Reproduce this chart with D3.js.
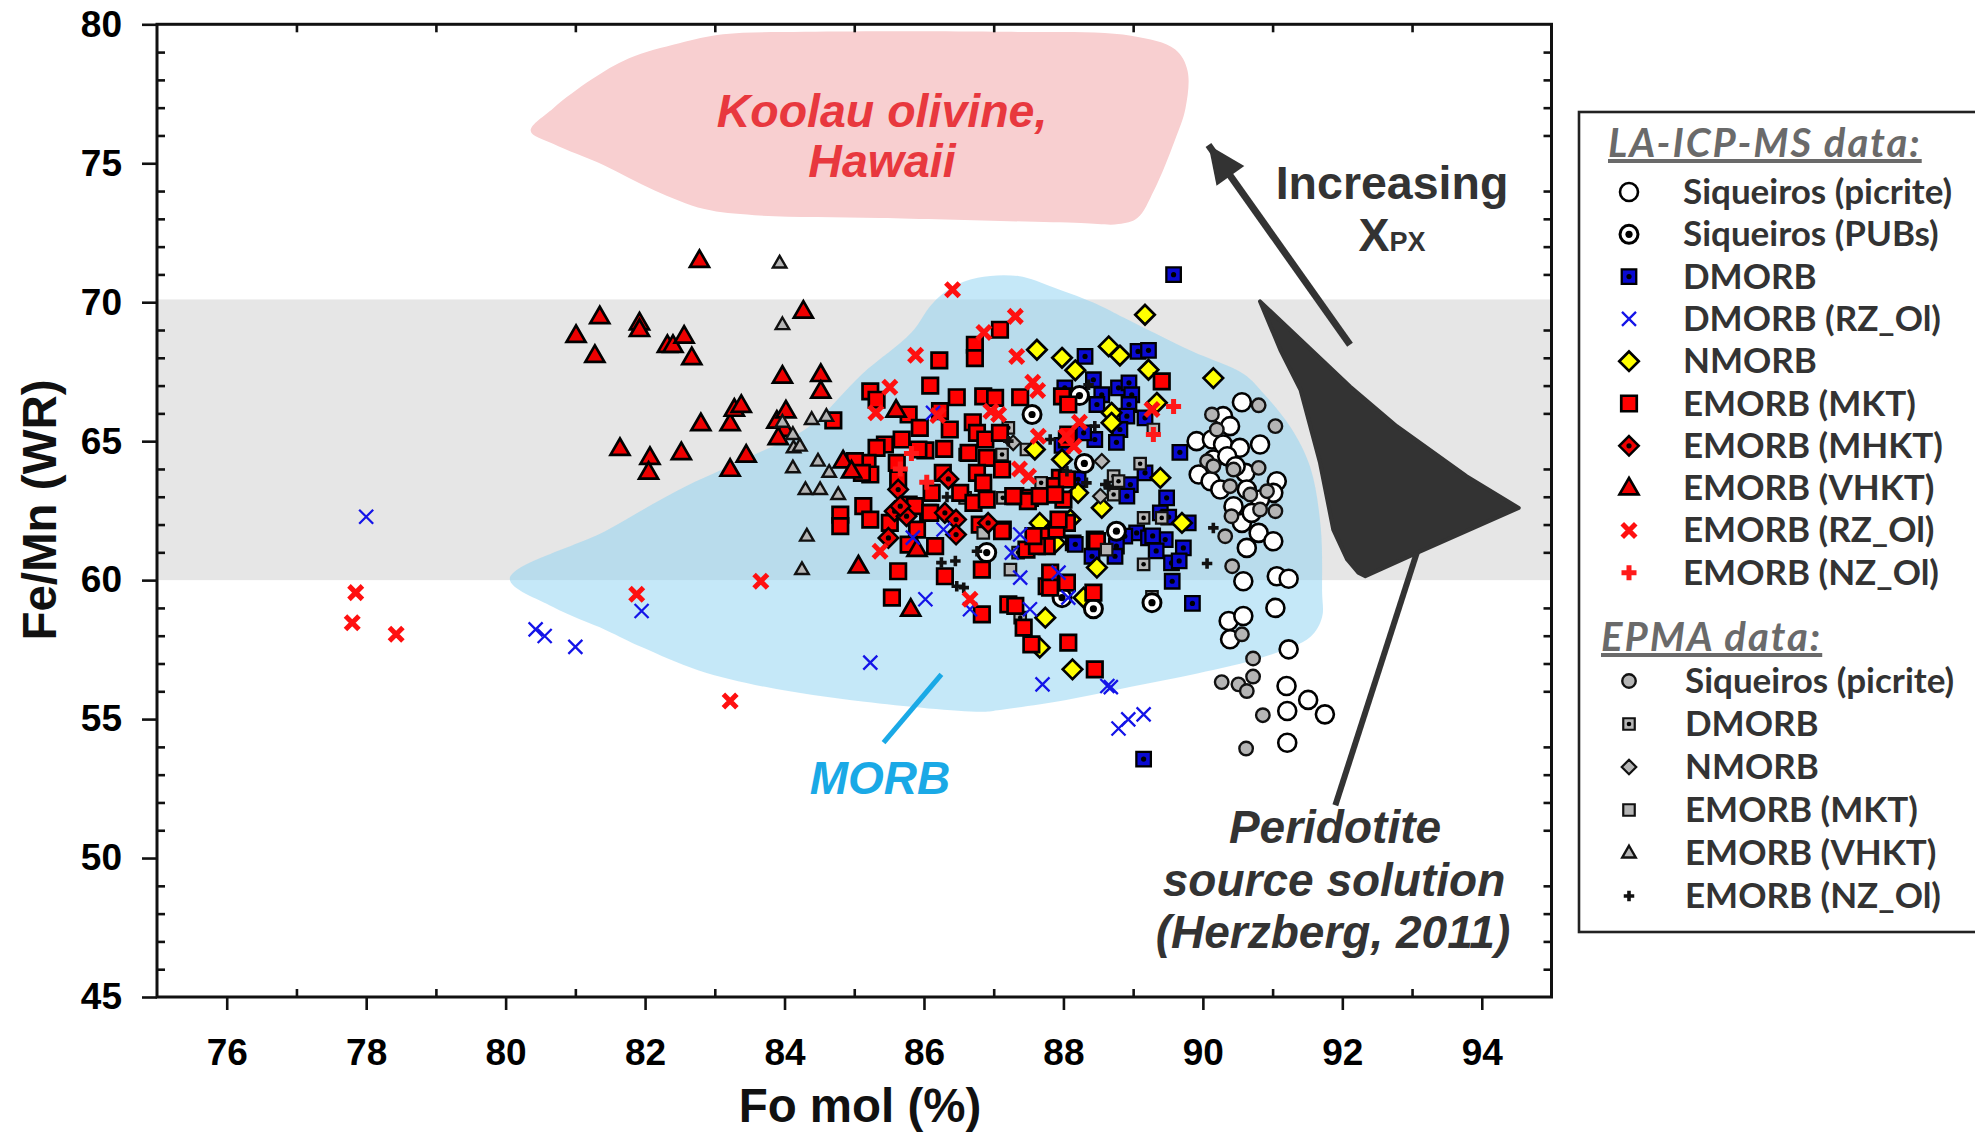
<!DOCTYPE html>
<html><head><meta charset="utf-8">
<script src="https://cdn.jsdelivr.net/npm/d3@7"></script>
<style>body{margin:0;background:#fff}</style>
</head><body>
<svg id="chart" width="1975" height="1135"></svg>
<script>
// ---------- axis ticks ----------
const xMajorTicks = [76, 78, 80, 82, 84, 86, 88, 90, 92, 94];
const xMinorTicks = [77, 79, 81, 83, 85, 87, 89, 91, 93];
const yMajorTicks = [45, 50, 55, 60, 65, 70, 75, 80];
const yMinorTicks = d3.range(46, 80).filter(v => v % 5 !== 0);

// ---------- LA-ICP-MS data (Fo mol %, Fe/Mn WR) ----------
const laPicrite = [[90.56,66.40],[89.91,65.0],[90.29,65.90],[90.39,65.54],[90.13,65.06],[90.29,64.88],[90.53,64.76],[90.82,64.88],[89.94,63.80],[90.15,64.34],[90.11,63.56],[90.25,63.26],[90.61,63.86],[90.63,63.26],[91.06,63.56],[91.01,63.14],[90.44,62.66],[90.82,62.90],[90.56,62.06],[90.70,62.42],[90.80,61.70],[91.01,61.40],[90.63,61.16],[90.35,64.46],[90.47,64.10],[90.58,59.96],[91.06,60.14],[91.23,60.05],[91.04,59.0],[90.37,58.53],[90.58,58.71],[90.39,57.87],[91.23,57.51],[91.20,56.19],[91.51,55.69],[91.75,55.17],[91.21,55.29],[91.21,54.15]];
const laPubs = [[87.55,65.96],[88.23,66.64],[86.90,60.99],[87.98,59.37],[88.43,58.97],[88.76,61.76],[89.27,59.19],[88.3,64.2]];
const laDmorb = [[89.58,70.99],[88.31,68.05],[89.07,68.23],[89.22,68.27],[88.43,67.21],[88.02,66.92],[88.55,66.67],[88.79,66.92],[88.94,67.10],[88.98,66.67],[88.48,66.32],[88.94,66.32],[88.91,65.90],[89.17,65.84],[88.81,65.42],[88.76,64.96],[89.67,64.60],[88.45,65.06],[88.29,65.30],[89.17,63.86],[88.96,63.44],[88.91,63.02],[89.48,62.96],[89.39,62.42],[89.79,62.06],[89.05,61.70],[89.22,61.52],[89.46,61.46],[88.88,61.58],[89.72,61.16],[88.76,61.22],[88.14,61.34],[88.41,60.86],[89.55,60.62],[89.56,59.96],[89.85,59.16],[88.74,60.86],[88.17,61.29],[89.15,53.56],[87.98,64.85],[88.21,63.63],[89.28,61.59],[89.51,62.27],[89.33,61.05],[89.66,60.69]];
const laDmorbRz = [[78.0,62.28],[80.43,58.23],[80.56,57.99],[81.0,57.6],[81.95,58.89],[85.23,57.03],[86.02,59.31],[86.28,61.82],[87.70,56.25],[88.63,56.19],[88.68,56.15],[88.79,54.66],[88.93,54.99],[89.15,55.17],[87.38,60.09],[87.52,58.95],[88.07,59.37],[87.93,60.27],[87.26,60.99],[85.84,61.53],[87.38,61.64],[86.66,58.95],[86.13,66.02]];
const laNmorb = [[89.17,69.55],[88.65,68.41],[88.81,68.08],[87.98,68.0],[88.17,67.55],[89.22,67.57],[90.15,67.27],[88.69,66.02],[88.69,65.66],[89.39,63.68],[88.21,63.14],[88.55,62.60],[89.70,62.06],[87.98,64.34],[88.10,62.18],[87.62,68.29],[87.66,62.06],[87.88,61.34],[87.59,64.70],[88.48,60.45],[87.74,58.65],[87.66,57.57],[88.13,56.79],[88.29,59.37],[89.34,66.38]];
const laEmorbMkt = [[87.09,69.01],[86.73,68.47],[86.73,67.99],[86.22,67.91],[86.09,67.0],[86.47,66.58],[86.85,66.61],[87.02,66.56],[87.38,66.58],[85.23,66.79],[85.32,66.49],[85.78,65.96],[85.94,65.48],[86.23,66.08],[86.37,65.42],[86.70,65.68],[86.76,65.30],[86.88,65.06],[87.09,65.30],[84.70,65.75],[85.68,65.06],[85.44,64.88],[85.32,64.76],[86.02,64.67],[86.29,64.72],[85.19,64.22],[85.01,64.28],[85.23,63.80],[85.11,63.86],[85.61,64.22],[85.63,63.62],[86.27,63.86],[86.64,64.58],[86.90,64.40],[86.76,63.86],[87.12,63.98],[86.85,63.50],[86.11,63.14],[85.78,62.72],[85.13,62.66],[84.80,62.36],[84.80,61.94],[85.23,62.18],[85.51,62.06],[86.06,62.42],[85.90,61.82],[86.52,63.14],[86.71,62.78],[86.90,62.90],[87.31,63.02],[87.52,62.96],[87.13,61.82],[86.16,61.22],[85.78,61.28],[86.80,62.0],[87.71,61.58],[87.95,63.68],[87.88,63.38],[88.0,62.90],[88.05,65.06],[87.98,66.61],[87.76,61.22],[87.47,61.1],[89.41,67.15],[88.07,66.32],[88.05,63.62],[88.05,62.06],[88.45,61.46],[85.92,64.70],[85.63,60.32],[85.54,59.37],[85.87,62.66],[86.09,62.42],[86.30,60.14],[86.83,60.38],[86.83,58.77],[87.12,61.76],[87.21,59.13],[87.31,59.07],[87.43,58.29],[87.54,57.69],[88.07,57.75],[88.45,56.79],[87.76,59.78],[87.81,60.27],[87.62,61.22],[87.57,61.58],[88.05,59.91],[88.43,59.55],[87.90,61.82],[87.93,62.18],[88.48,61.40],[87.49,62.84],[87.66,63.02],[87.28,63.02],[88.07,65.24],[87.88,63.08],[87.81,59.73]];
const laEmorbMhkt = [[86.35,63.64],[85.63,63.26],[85.58,62.48],[85.75,62.30],[86.30,62.42],[86.46,62.18],[86.46,61.64],[85.49,61.52],[86.92,62.06],[85.66,62.66]];
const laEmorbVhkt = [[82.78,71.50],[81.35,69.47],[81.01,68.80],[81.28,68.08],[81.92,69.25],[81.92,69.01],[82.32,68.44],[82.40,68.44],[82.56,68.77],[82.67,68.0],[83.97,67.33],[84.27,69.67],[82.80,65.62],[83.22,65.62],[83.28,66.14],[83.38,66.28],[81.64,64.73],[82.07,64.41],[82.05,63.88],[82.52,64.58],[83.45,64.49],[83.22,63.98],[83.89,65.71],[84.02,66.08],[84.0,65.42],[83.91,65.12],[84.52,67.39],[84.52,66.79],[85.6,66.11],[84.84,64.28],[84.96,63.92],[85.9,61.1],[85.06,60.5],[85.81,58.95]];
const laEmorbRz = [[77.85,59.55],[77.80,58.47],[78.43,58.05],[81.88,59.49],[83.66,59.96],[83.22,55.65],[86.41,70.45],[87.31,69.49],[86.86,68.91],[85.88,68.09],[87.33,68.05],[87.56,67.12],[87.63,66.82],[85.51,66.94],[85.31,66.02],[86.20,65.92],[86.96,66.08],[87.07,65.96],[88.23,65.68],[87.64,65.18],[88.04,65.18],[88.15,64.82],[87.37,64.0],[87.50,63.74],[85.37,61.04],[86.66,59.31],[89.27,66.14]];
const laEmorbNz = [[85.82,64.56],[85.66,64.0],[86.04,63.52],[89.58,66.25],[89.29,65.24]];

// ---------- EPMA data ----------
const epPicrite = [[90.80,66.29],[90.13,65.96],[90.20,65.42],[91.04,65.54],[90.06,64.28],[90.15,64.10],[90.44,63.98],[90.80,64.04],[90.39,63.38],[90.68,63.08],[90.92,63.20],[90.41,62.30],[90.82,62.54],[91.04,62.48],[90.32,61.58],[90.42,60.50],[90.56,58.05],[90.72,57.18],[90.72,56.53],[90.51,56.25],[90.63,56.01],[90.27,56.33],[90.86,55.14],[90.62,53.94]];
const epDmorb = [[87.21,65.48],[87.47,64.70],[86.59,64.52],[86.59,62.96],[87.13,62.96],[87.68,63.50],[87.35,60.99],[89.10,64.19],[88.72,63.74],[88.79,63.56],[88.72,63.08],[89.15,62.24],[89.41,62.24],[89.15,60.57],[89.27,59.40],[87.38,58.65],[87.12,64.52]];
const epNmorb = [[87.28,64.94],[88.55,64.28],[88.53,63.02]];
const epEmorbMkt = [[86.85,61.70],[89.29,65.42],[88.62,61.10],[87.24,60.38]];
const epEmorbVhkt = [[83.93,71.41],[83.97,69.19],[83.97,65.68],[84.12,65.24],[84.13,64.76],[84.22,64.82],[84.12,64.04],[84.30,63.26],[84.32,61.58],[84.25,60.38],[84.48,64.28],[84.51,63.26],[84.64,63.88],[84.60,65.89],[84.39,65.78],[84.77,63.08]];
const epEmorbNz = [[86.33,62.99],[86.76,61.04],[86.25,60.63],[86.45,60.69],[86.47,59.78],[86.57,59.73],[87.21,65.0],[87.81,65.06],[88.33,63.50],[88.05,63.92],[88.45,65.54],[88.60,63.44],[90.15,61.88],[88.36,67.03],[88.65,63.38],[90.06,60.60]];

// ---------- outlined fields ----------
const koolauOutline = [[80.36,76.16],[80.68,76.97],[81.23,78.01],[81.77,78.78],[82.49,79.32],[83.12,79.64],[84.29,79.73],[87.17,79.73],[88.97,79.59],[89.60,79.10],[89.78,78.33],[89.75,76.97],[89.60,75.84],[89.30,74.03],[89.06,73.03],[88.79,72.81],[88.25,72.85],[85.37,73.03],[83.57,73.13],[82.85,73.35],[82.13,74.03],[81.41,74.93],[80.68,75.70]];
const morbOutline = [[80.06,60.05],[81.44,61.78],[82.46,63.22],[83.48,64.41],[84.34,65.50],[85.11,67.41],[85.82,68.91],[86.11,69.92],[86.39,70.52],[86.77,70.88],[87.35,70.94],[87.87,70.52],[88.49,69.92],[88.87,69.44],[89.83,68.25],[90.59,67.41],[90.88,66.69],[91.26,65.49],[91.54,64.06],[91.69,61.90],[91.71,59.56],[91.71,58.67],[91.54,57.95],[90.88,57.24],[89.92,56.64],[88.97,56.16],[88.02,55.68],[87.06,55.32],[86.82,55.26],[85.15,55.62],[83.72,56.16],[82.77,56.75],[81.95,57.59],[81.44,58.20],[80.68,59.03]];
const peridotiteOutline = [[90.82,70.03],[91.25,69.01],[92.11,66.97],[92.78,65.54],[93.78,63.74],[94.53,62.60],[93.07,60.98],[92.33,60.14],[92.23,60.27],[92.07,60.74],[91.87,61.82],[91.68,64.22],[91.40,66.85],[91.11,68.29]];
const fieldBand = [60, 70.1];
const xpxArrow = [[92.11,68.47],[90.08,75.66]];
const peridotitePointer = [[93.07,61.0],[91.90,51.9]];
const morbPointer = [[86.25,56.61],[85.42,54.15]];

// ---------- scales ----------
const svg = d3.select('#chart');
const pLeft = 157, pRight = 1551.5, pTop = 24.3, pBottom = 997;
const x = d3.scaleLinear().domain([75, 95]).range([pLeft, pRight]);
const y = d3.scaleLinear().domain([45, 80]).range([pBottom, pTop]);

svg.append('clipPath').attr('id', 'plotClip')
  .append('rect').attr('x', pLeft).attr('y', pTop).attr('width', pRight - pLeft).attr('height', pBottom - pTop);
const plot = svg.append('g').attr('clip-path', 'url(#plotClip)');

// grey reference band
plot.append('rect')
  .attr('x', x(75)).attr('width', x(95) - x(75))
  .attr('y', y(fieldBand[1])).attr('height', y(fieldBand[0]) - y(fieldBand[1]))
  .attr('fill', '#e6e6e6');

const smooth = d3.line().x(d => x(d[0])).y(d => y(d[1])).curve(d3.curveCatmullRomClosed.alpha(0.5));
const straight = d3.line().x(d => x(d[0])).y(d => y(d[1])).curve(d3.curveLinearClosed);

plot.append('path').attr('d', smooth(koolauOutline)).attr('fill', '#f8cfd0');
plot.append('path').attr('d', smooth(morbOutline)).attr('fill', 'rgb(143,211,242)').attr('fill-opacity', 0.52);
plot.append('path').attr('d', straight(peridotiteOutline)).attr('fill', '#333333')
  .attr('stroke', '#333333').attr('stroke-width', 4).attr('stroke-linejoin', 'round');

// ---------- marker shapes ----------
const shapes = {
  square: s => `M${-s/2},${-s/2}h${s}v${s}h${-s}Z`,
  diamond: s => `M0,${-s/2}L${s/2},0L0,${s/2}L${-s/2},0Z`,
  triangle: s => { const h = s * 0.866; return `M0,${-h*0.62}L${s/2},${h*0.38}L${-s/2},${h*0.38}Z`; },
  circle: s => { const r = s/2; return `M${r},0A${r},${r} 0 1,1 ${-r},0A${r},${r} 0 1,1 ${r},0Z`; },
  times: s => `M${-s/2},${-s/2}L${s/2},${s/2}M${s/2},${-s/2}L${-s/2},${s/2}`,
  plus: s => `M${-s/2},0H${s/2}M0,${-s/2}V${s/2}`
};

const series = {
  laPicrite:   {label: 'Siqueiros (picrite)', data: laPicrite, shape: 'circle', size: 18, fill: '#ffffff', stroke: '#000', sw: 2.6},
  laPubs:      {label: 'Siqueiros (PUBs)', data: laPubs, shape: 'circle', size: 18, fill: '#ffffff', stroke: '#000', sw: 3, dot: 3.6},
  laDmorb:     {label: 'DMORB', data: laDmorb, shape: 'square', size: 14.5, fill: '#0a0ad2', stroke: '#000', sw: 2.3, dot: 2.6},
  laDmorbRz:   {label: 'DMORB (RZ_Ol)', data: laDmorbRz, shape: 'times', size: 14, fill: 'none', stroke: '#1414e8', sw: 2.3},
  laNmorb:     {label: 'NMORB', data: laNmorb, shape: 'diamond', size: 19.5, fill: '#ffff00', stroke: '#000', sw: 2.7},
  laEmorbMkt:  {label: 'EMORB (MKT)', data: laEmorbMkt, shape: 'square', size: 15.5, fill: '#ff0000', stroke: '#000', sw: 2.7},
  laEmorbMhkt: {label: 'EMORB (MHKT)', data: laEmorbMhkt, shape: 'diamond', size: 19.5, fill: '#ee0000', stroke: '#000', sw: 2.5, dot: 2.6},
  laEmorbVhkt: {label: 'EMORB (VHKT)', data: laEmorbVhkt, shape: 'triangle', size: 19, fill: '#ee0000', stroke: '#000', sw: 2.7},
  laEmorbRz:   {label: 'EMORB (RZ_Ol)', data: laEmorbRz, shape: 'times', size: 13.5, fill: 'none', stroke: '#ff1010', sw: 5},
  laEmorbNz:   {label: 'EMORB (NZ_Ol)', data: laEmorbNz, shape: 'plus', size: 15, fill: 'none', stroke: '#ff1a1a', sw: 5},
  epPicrite:   {label: 'Siqueiros (picrite)', data: epPicrite, shape: 'circle', size: 13.5, fill: '#b5b5b5', stroke: '#111', sw: 2.4},
  epDmorb:     {label: 'DMORB', data: epDmorb, shape: 'square', size: 11.5, fill: '#b5b5b5', stroke: '#111', sw: 2.2, dot: 2.3},
  epNmorb:     {label: 'NMORB', data: epNmorb, shape: 'diamond', size: 14.5, fill: '#b5b5b5', stroke: '#111', sw: 2.2},
  epEmorbMkt:  {label: 'EMORB (MKT)', data: epEmorbMkt, shape: 'square', size: 11.5, fill: '#b5b5b5', stroke: '#111', sw: 2.2},
  epEmorbVhkt: {label: 'EMORB (VHKT)', data: epEmorbVhkt, shape: 'triangle', size: 13.5, fill: '#b5b5b5', stroke: '#111', sw: 2.4},
  epEmorbNz:   {label: 'EMORB (NZ_Ol)', data: epEmorbNz, shape: 'plus', size: 10.5, fill: 'none', stroke: '#111', sw: 3.6}
};

function drawMarker(g, s, px, py) {
  const m = g.append('g').attr('transform', `translate(${px},${py})`);
  const lineShape = s.shape === 'times' || s.shape === 'plus';
  m.append('path').attr('d', shapes[s.shape](s.size))
    .attr('fill', lineShape ? 'none' : s.fill)
    .attr('stroke', s.stroke).attr('stroke-width', s.sw)
    .attr('stroke-linejoin', 'miter');
  if (s.dot) m.append('circle').attr('r', s.dot).attr('fill', '#000');
}

const drawOrder = ['laPicrite', 'epPicrite', 'laDmorb', 'epDmorb', 'laNmorb', 'epNmorb', 'laPubs',
  'laEmorbMkt', 'epEmorbMkt', 'laEmorbMhkt', 'laEmorbVhkt', 'epEmorbVhkt', 'epEmorbNz',
  'laDmorbRz', 'laEmorbRz', 'laEmorbNz'];
const marks = svg.append('g');
drawOrder.forEach(key => {
  const s = series[key];
  const g = marks.append('g').attr('class', key);
  s.data.forEach(d => drawMarker(g, s, x(d[0]), y(d[1])));
});

// ---------- annotations ----------
const ink = '#333333';
const arrowLine = d3.line().x(d => x(d[0])).y(d => y(d[1]));
svg.append('path').attr('d', arrowLine(xpxArrow)).attr('stroke', ink).attr('stroke-width', 7).attr('fill', 'none');
{
  // arrow head at the upper end of the X_PX arrow
  const [x0, y0] = [x(xpxArrow[0][0]), y(xpxArrow[0][1])];
  const [x1, y1] = [x(xpxArrow[1][0]), y(xpxArrow[1][1])];
  const ang = Math.atan2(y1 - y0, x1 - x0);
  const len = 38, half = 17;
  const bx = x1 - len * Math.cos(ang), by = y1 - len * Math.sin(ang);
  const nx = -Math.sin(ang), ny = Math.cos(ang);
  svg.append('path')
    .attr('d', `M${x1},${y1}L${bx + nx*half},${by + ny*half}L${bx - nx*half},${by - ny*half}Z`)
    .attr('fill', ink);
}
svg.append('path').attr('d', arrowLine(peridotitePointer)).attr('stroke', ink).attr('stroke-width', 6).attr('fill', 'none');
svg.append('path').attr('d', arrowLine(morbPointer)).attr('stroke', '#1aa9e6').attr('stroke-width', 5).attr('fill', 'none');

const textFont = '"Liberation Sans", Arial, Helvetica, sans-serif';
function label(txt, px, py, opts) {
  return svg.append('text').attr('x', px).attr('y', py).text(txt)
    .attr('font-family', textFont).attr('font-weight', 'bold')
    .attr('font-style', opts.italic ? 'italic' : 'normal')
    .attr('font-size', opts.size).attr('fill', opts.color)
    .attr('text-anchor', opts.anchor || 'middle');
}
label('Koolau olivine,', 882, 127, {size: 46.5, color: '#e8383e', italic: true});
label('Hawaii', 882, 177, {size: 46.5, color: '#e8383e', italic: true});
label('MORB', 880, 794, {size: 46, color: '#1aa9e6', italic: true});
label('Increasing', 1392, 199, {size: 46.5, color: ink});
const xpx = label('X', 1392, 251, {size: 46.5, color: ink});
xpx.append('tspan').attr('font-size', 27).text('PX');
label('Peridotite', 1335, 843, {size: 46, color: ink, italic: true});
label('source solution', 1334, 896, {size: 46, color: ink, italic: true});
label('(Herzberg, 2011)', 1333, 948, {size: 46, color: ink, italic: true});

// ---------- axes ----------
const axisStyle = g => {
  g.select('.domain').remove();
  g.selectAll('line').attr('stroke', '#111').attr('stroke-width', 2.6);
  g.selectAll('text').attr('font-family', textFont).attr('font-weight', 'bold')
    .attr('font-size', 37).attr('fill', '#000');
};
svg.append('g').attr('transform', `translate(0,${pBottom})`)
  .call(d3.axisBottom(x).tickValues(xMajorTicks).tickSize(13).tickPadding(29).tickFormat(d3.format('d')))
  .call(axisStyle);
svg.append('g').attr('transform', `translate(0,${pBottom})`)
  .call(d3.axisBottom(x).tickValues(xMinorTicks).tickSize(-8).tickFormat(''))
  .call(axisStyle);
svg.append('g').attr('transform', `translate(0,${pTop})`)
  .call(d3.axisTop(x).tickValues(xMinorTicks).tickSize(-8).tickFormat(''))
  .call(axisStyle);
svg.append('g').attr('transform', `translate(${pLeft},0)`)
  .call(d3.axisLeft(y).tickValues(yMajorTicks).tickSize(15).tickPadding(20).tickFormat(d3.format('d')))
  .call(axisStyle);
svg.append('g').attr('transform', `translate(${pLeft},0)`)
  .call(d3.axisLeft(y).tickValues(yMinorTicks).tickSize(-8).tickFormat(''))
  .call(axisStyle);
svg.append('g').attr('transform', `translate(${pRight},0)`)
  .call(d3.axisRight(y).tickValues(yMinorTicks).tickSize(-8).tickFormat(''))
  .call(axisStyle);
svg.append('rect').attr('x', pLeft).attr('y', pTop).attr('width', pRight - pLeft).attr('height', pBottom - pTop)
  .attr('fill', 'none').attr('stroke', '#111').attr('stroke-width', 3);

label('Fo mol (%)', 860, 1122, {size: 47.5, color: '#111'});
label('Fe/Mn (WR)', 0, 0, {size: 47.5, color: '#111'})
  .attr('transform', 'translate(56,510) rotate(-90)');

// ---------- legend ----------
const legend = svg.append('g');
legend.append('rect').attr('x', 1579).attr('y', 112).attr('width', 420).attr('height', 820)
  .attr('fill', '#fff').attr('stroke', '#222').attr('stroke-width', 2.6);
const legendFont = 'Lato, "Open Sans", sans-serif';
function legendTitle(txt, px, py) {
  legend.append('text').attr('x', px).attr('y', py).text(txt)
    .attr('font-family', legendFont).attr('font-style', 'italic').attr('font-weight', 'bold')
    .attr('font-size', 40).attr('letter-spacing', 2).attr('fill', '#6a6a6a')
    .attr('text-decoration', 'underline');
}
const laRows = ['laPicrite', 'laPubs', 'laDmorb', 'laDmorbRz', 'laNmorb', 'laEmorbMkt', 'laEmorbMhkt', 'laEmorbVhkt', 'laEmorbRz', 'laEmorbNz'];
const epRows = ['epPicrite', 'epDmorb', 'epNmorb', 'epEmorbMkt', 'epEmorbVhkt', 'epEmorbNz'];
legendTitle('LA-ICP-MS data:', 1608, 157);
laRows.forEach((key, i) => {
  const cy = 192 + i * 42.3;
  drawMarker(legend, series[key], 1629, cy);
  legend.append('text').attr('x', 1683).attr('y', cy + 12).text(series[key].label)
    .attr('font-family', legendFont).attr('font-weight', 'bold').attr('font-size', 35).attr('fill', '#333');
});
legendTitle('EPMA data:', 1601, 651);
epRows.forEach((key, i) => {
  const cy = 681 + i * 43;
  drawMarker(legend, series[key], 1629, cy);
  legend.append('text').attr('x', 1685).attr('y', cy + 12).text(series[key].label)
    .attr('font-family', legendFont).attr('font-weight', 'bold').attr('font-size', 35).attr('fill', '#333');
});
</script>
</body></html>
